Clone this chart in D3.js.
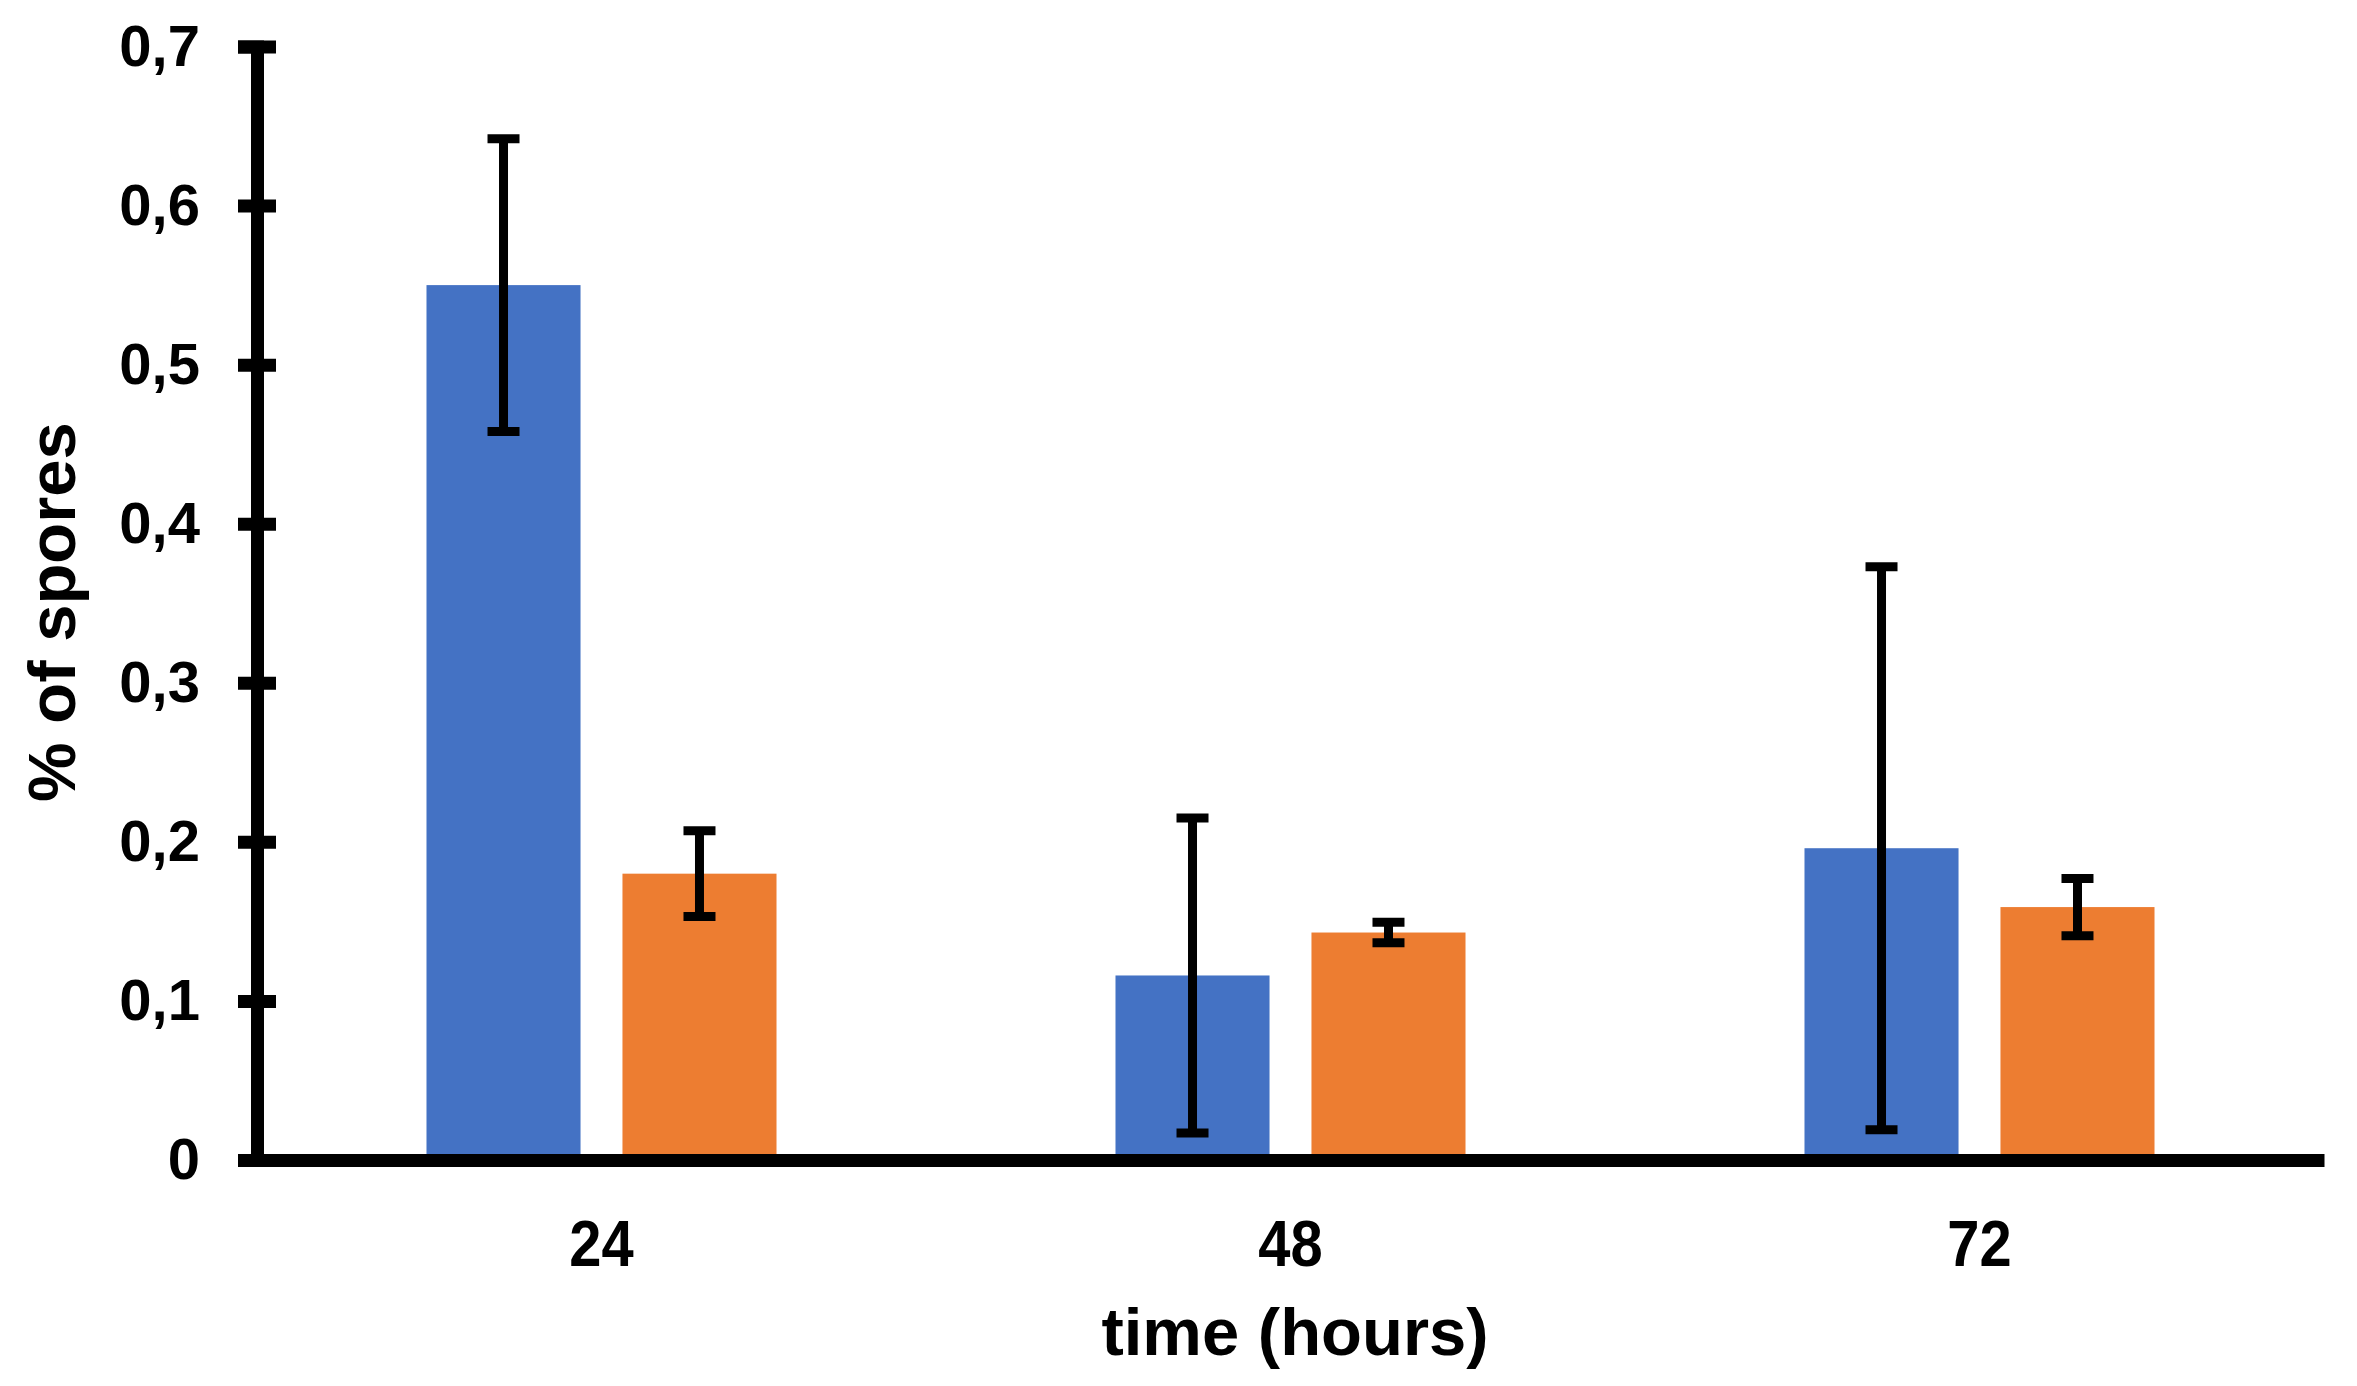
<!DOCTYPE html>
<html>
<head>
<meta charset="utf-8">
<script src="https://cdn.jsdelivr.net/npm/d3@7"></script>
<style>
  body { margin: 0; background: #fff; }
  svg { display: block; }
  text { font-family: "Liberation Sans", Arial, sans-serif; font-weight: bold; fill: #000; }
</style>
</head>
<body>
<svg id="chart" width="2357" height="1386"></svg>
<script>
const times = ["24", "48", "72"]
const seriesNames = ["a", "b"]
const blueValues = [0.55, 0.116, 0.196]
const blueErrors = [0.092, 0.099, 0.177]
const orangeValues = [0.18, 0.143, 0.159]
const orangeErrors = [0.027, 0.0065, 0.018]
const yTicks = [0, 0.1, 0.2, 0.3, 0.4, 0.5, 0.6, 0.7]

const colors = { a: "#4472C4", b: "#ED7D31" }

const svg = d3.select("#chart")

const plotLeft = 257, plotRight = 2324, plotTop = 46.5, plotBottom = 1160

const yScale = d3.scaleLinear()
    .domain([0, 0.7])
    .range([plotBottom, plotTop])

const x0 = d3.scaleBand()
    .domain(times)
    .range([plotLeft, plotRight])
    .paddingInner(0.492)
    .paddingOuter(0.246)

const x1 = d3.scaleBand()
    .domain(seriesNames)
    .range([0, x0.bandwidth()])
    .paddingInner(0.214)

const rows = times.map((t, i) => ({
    time: t,
    bars: [
        { key: "a", value: blueValues[i], err: blueErrors[i] },
        { key: "b", value: orangeValues[i], err: orangeErrors[i] }
    ]
}))

// bars
const groups = svg.selectAll(".group")
    .data(rows)
    .join("g")
    .attr("class", "group")
    .attr("transform", d => `translate(${x0(d.time)},0)`)

groups.selectAll("rect")
    .data(d => d.bars)
    .join("rect")
    .attr("x", d => x1(d.key))
    .attr("y", d => yScale(d.value))
    .attr("width", x1.bandwidth())
    .attr("height", d => yScale(0) - yScale(d.value))
    .attr("fill", d => colors[d.key])

// error bars
const capHalf = 16
const err = groups.selectAll(".err")
    .data(d => d.bars)
    .join("g")
    .attr("class", "err")
    .attr("stroke", "#000")
    .attr("stroke-width", 9)

const cx = d => x1(d.key) + x1.bandwidth() / 2

err.append("line")
    .attr("x1", cx)
    .attr("x2", cx)
    .attr("y1", d => yScale(d.value + d.err))
    .attr("y2", d => yScale(d.value - d.err))

err.append("line")
    .attr("x1", d => cx(d) - capHalf)
    .attr("x2", d => cx(d) + capHalf)
    .attr("y1", d => yScale(d.value + d.err))
    .attr("y2", d => yScale(d.value + d.err))

err.append("line")
    .attr("x1", d => cx(d) - capHalf)
    .attr("x2", d => cx(d) + capHalf)
    .attr("y1", d => yScale(d.value - d.err))
    .attr("y2", d => yScale(d.value - d.err))

// x axis
const xAxis = d3.axisBottom(x0)
    .tickSize(0)
    .tickPadding(60)

const gx = svg.append("g")
    .attr("transform", `translate(0,${plotBottom})`)
    .call(xAxis)
gx.select(".domain").attr("stroke", "#000").attr("stroke-width", 13)
gx.selectAll("text")
    .style("font-size", "65px")
    .attr("fill", "#000")
    .attr("transform", "scale(0.89,1)")

// y axis with ticks crossing the line
const yAxis = d3.axisLeft(yScale)
    .tickValues(yTicks)
    .tickSizeOuter(0)
    .tickSize(19)
    .tickPadding(38)
    .tickFormat(d => d === 0 ? "0" : d3.format(".1f")(d).replace(".", ","))

const gy = svg.append("g")
    .attr("transform", `translate(${plotLeft},0)`)
    .call(yAxis)
gy.select(".domain").attr("stroke", "#000").attr("stroke-width", 13)
gy.selectAll(".tick line")
    .attr("x1", 19)
    .attr("x2", -19)
    .attr("stroke", "#000")
    .attr("stroke-width", 13)
gy.selectAll("text").style("font-size", "58px").attr("fill", "#000")

// axis titles
svg.append("text")
    .attr("x", 1295)
    .attr("y", 1355)
    .attr("text-anchor", "middle")
    .style("font-size", "67px")
    .text("time (hours)")

svg.append("text")
    .attr("transform", "translate(75,612) rotate(-90)")
    .attr("text-anchor", "middle")
    .style("font-size", "67px")
    .text("% of spores")
</script>
</body>
</html>
